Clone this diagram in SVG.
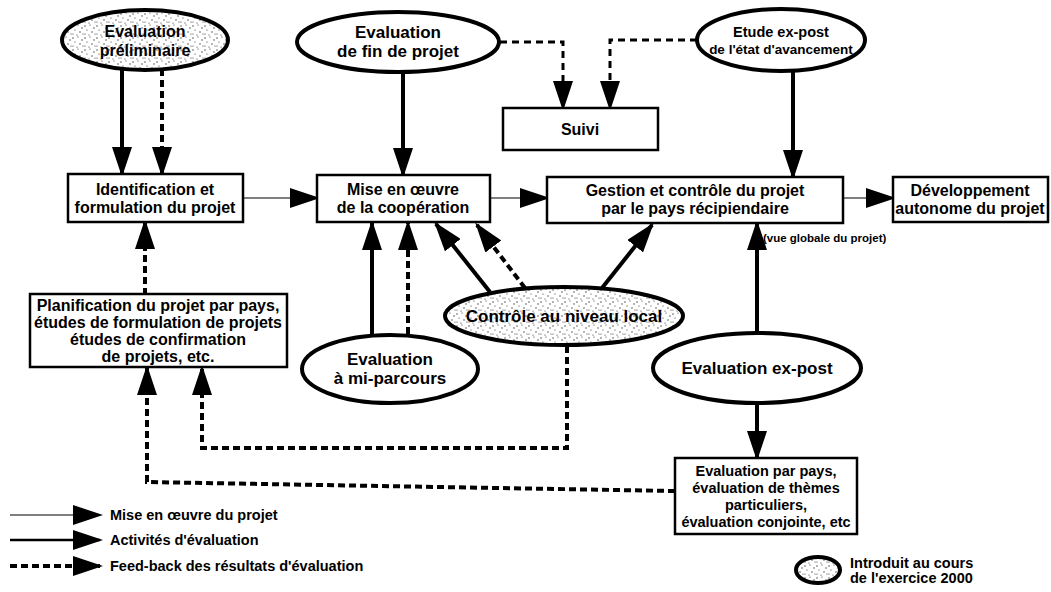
<svg xmlns="http://www.w3.org/2000/svg" width="1051" height="592" viewBox="0 0 1051 592">
  <style>
    .box { fill: #fff; stroke: #000; stroke-width: 2.5; }
    .ell { fill: #fff; stroke: #000; stroke-width: 4; }
    .ell.new { fill: url(#stipple); }
    text { font-family: "Liberation Sans", Arial, sans-serif; font-weight: bold; fill: #000; text-anchor: middle; }
    .t16 { font-size: 16px; }
    .t17 { font-size: 17px; }
    .t14 { font-size: 14.5px; }
    .t13 { font-size: 13.5px; }
    .small { font-size: 11.5px; text-anchor: start; }
    .legend { font-size: 14.5px; text-anchor: start; }
    .impl { fill: none; stroke: #000; stroke-width: 1.2; marker-end: url(#head); }
    .eval { fill: none; stroke: #000; stroke-width: 4; marker-end: url(#head); }
    .fb { fill: none; stroke: #000; stroke-width: 4; stroke-dasharray: 7 4; }
    .fb.arrow { marker-end: url(#head); }
    .fbthin { fill: none; stroke: #000; stroke-width: 3; stroke-dasharray: 7 5; marker-end: url(#head); }
  </style>
  <defs>
    <marker id="head" viewBox="0 0 30 20" refX="27" refY="10" markerWidth="30" markerHeight="20" markerUnits="userSpaceOnUse" orient="auto">
      <path d="M0,0 L30,10 L0,20 Z" fill="#000"/>
    </marker>
    <!-- stippled fill for the activities introduced in 2000 -->
    <pattern id="stipple" width="12" height="12" patternUnits="userSpaceOnUse">
      <rect width="12" height="12" fill="#fff"/>
      <g fill="#333">
        <circle cx="1" cy="2" r="0.7"/>
        <circle cx="6" cy="1" r="0.6"/>
        <circle cx="10" cy="4" r="0.7"/>
        <circle cx="3" cy="6" r="0.6"/>
        <circle cx="8" cy="8" r="0.7"/>
        <circle cx="1" cy="10" r="0.6"/>
        <circle cx="5" cy="11" r="0.6"/>
        <circle cx="11" cy="10" r="0.6"/>
      </g>
    </pattern>
  </defs>

  <!-- connectors -->
  <g id="connectors">
    <!-- project implementation flow -->
    <path class="impl" d="M243,198 H317"/>
    <path class="impl" d="M490,198 H547"/>
    <path class="impl" d="M843,198 H893"/>
    <!-- evaluation activities -->
    <path class="eval" d="M122,68 V174"/>
    <path class="eval" d="M403,72 V175"/>
    <path class="eval" d="M793,71 V177"/>
    <path class="eval" d="M372,336 V223"/>
    <path class="eval" d="M490,292 L436,224"/>
    <path class="eval" d="M602,288 L652,225"/>
    <path class="eval" d="M757,333 V223"/>
    <path class="eval" d="M757,403 V458"/>
    <!-- feedback of evaluation results -->
    <path class="fb arrow" d="M162,69 V174"/>
    <path class="fb arrow" d="M408,334 V223"/>
    <path class="fb arrow" d="M525,288 L477,225"/>
    <path class="fb arrow" d="M145,295 V222"/>
    <path class="fb arrow" d="M567,346 V448 H202 V368"/>
    <path class="fb arrow" d="M675,491 L147,482 V368"/>
    <path class="fbthin" d="M500,42 H563 V108"/>
    <path class="fbthin" d="M697,40 H610 V108"/>
  </g>

  <g id="eval-preliminaire">
    <ellipse class="ell new" cx="145" cy="40" rx="83" ry="30"/>
    <text class="t16" x="145" y="37">Evaluation</text>
    <text class="t16" x="145" y="56">préliminaire</text>
  </g>

  <g id="eval-fin-projet">
    <ellipse class="ell" cx="398" cy="42" rx="101" ry="30"/>
    <text class="t17" x="398" y="38">Evaluation</text>
    <text class="t17" x="398" y="57">de fin de projet</text>
  </g>

  <g id="etude-ex-post">
    <ellipse class="ell" cx="781" cy="40" rx="84" ry="31"/>
    <text class="t14" x="781" y="37">Etude ex-post</text>
    <text class="t13" x="781" y="54">de l'état d'avancement</text>
  </g>

  <g id="suivi">
    <rect class="box" x="503" y="108" width="155" height="42"/>
    <text class="t16" x="580" y="135">Suivi</text>
  </g>

  <g id="identification">
    <rect class="box" x="68" y="174" width="175" height="48"/>
    <text class="t16" x="155" y="195">Identification et</text>
    <text class="t16" x="155" y="213">formulation du projet</text>
  </g>

  <g id="mise-en-oeuvre">
    <rect class="box" x="317" y="175" width="173" height="47"/>
    <text class="t16" x="403" y="195">Mise en œuvre</text>
    <text class="t16" x="403" y="213">de la coopération</text>
  </g>

  <g id="gestion">
    <rect class="box" x="547" y="177" width="296" height="46"/>
    <text class="t16" x="695" y="196">Gestion et contrôle du projet</text>
    <text class="t16" x="695" y="214">par le pays récipiendaire</text>
  </g>

  <g id="developpement">
    <rect class="box" x="893" y="177" width="155" height="45"/>
    <text class="t16" x="970" y="196">Développement</text>
    <text class="t16" x="970" y="214">autonome du projet</text>
  </g>

  <text class="small" x="763" y="242">(vue globale du projet)</text>

  <g id="planification">
    <rect class="box" x="30" y="294" width="257" height="73"/>
    <text class="t16" x="158" y="311">Planification du projet par pays,</text>
    <text class="t16" x="158" y="328">études de formulation de projets</text>
    <text class="t16" x="158" y="345">études de confirmation</text>
    <text class="t16" x="158" y="362">de projets, etc.</text>
  </g>

  <g id="controle-local">
    <ellipse class="ell new" cx="564" cy="316" rx="119" ry="29"/>
    <text class="t17" x="564" y="322">Contrôle au niveau local</text>
  </g>

  <g id="eval-mi-parcours">
    <ellipse class="ell" cx="390" cy="369" rx="88" ry="34"/>
    <text class="t17" x="390" y="365">Evaluation</text>
    <text class="t17" x="390" y="384">à mi-parcours</text>
  </g>

  <g id="eval-ex-post">
    <ellipse class="ell" cx="757" cy="368" rx="104" ry="35"/>
    <text class="t17" x="757" y="374">Evaluation ex-post</text>
  </g>

  <g id="eval-par-pays">
    <rect class="box" x="675" y="458" width="182" height="76"/>
    <text class="t14" x="766" y="476">Evaluation par pays,</text>
    <text class="t14" x="766" y="493">évaluation de thèmes</text>
    <text class="t14" x="766" y="510">particuliers,</text>
    <text class="t14" x="766" y="527">évaluation conjointe, etc</text>
  </g>

  <!-- legend -->
  <g id="legend">
    <path class="impl" d="M10,515 H100"/>
    <text class="legend" x="110" y="520">Mise en œuvre du projet</text>
    <path fill="none" stroke="#000" stroke-width="2.5" marker-end="url(#head)" d="M10,540 H100"/>
    <text class="legend" x="110" y="545">Activités d'évaluation</text>
    <path class="fb arrow" d="M10,566 H100"/>
    <text class="legend" x="110" y="571">Feed-back des résultats d'évaluation</text>
    <ellipse class="ell new" cx="818" cy="570" rx="22" ry="13" stroke-width="3.5"/>
    <text class="legend" x="850" y="568">Introduit au cours</text>
    <text class="legend" x="850" y="583">de l'exercice 2000</text>
  </g>
</svg>
